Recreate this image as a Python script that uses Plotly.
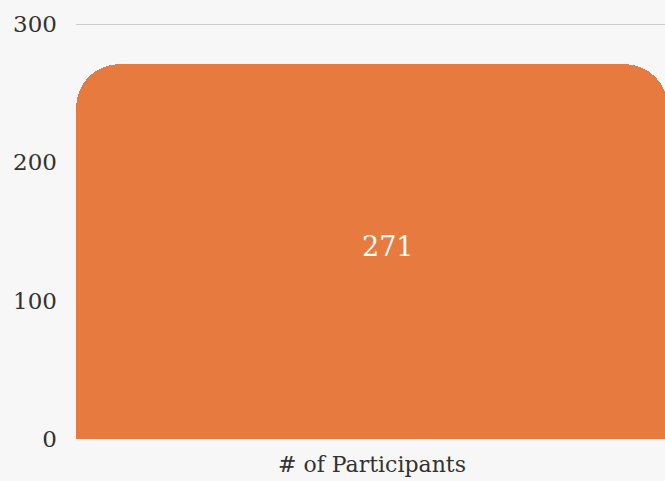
import plotly.graph_objects as go

categories = ["# of Participants"]
values = [271]
y_ticks = [0, 100, 200, 300]

FONT = "DejaVu Serif"
fig = go.Figure()
fig.add_trace(go.Bar(
    x=categories, y=values,
    marker=dict(color="#E67A3F", cornerradius=44, line=dict(width=0)),
    width=1.0,
    hoverinfo="skip",
))
fig.add_annotation(
    x=categories[0], y=values[0] / 2, text=str(values[0]),
    showarrow=False, xshift=16, yshift=5,
    font=dict(family=FONT, size=27, color="#ffffff"),
)
fig.update_layout(
    width=665, height=481,
    margin=dict(l=76, r=0, t=23, b=42),
    paper_bgcolor="#F7F7F7", plot_bgcolor="#F7F7F7",
    showlegend=False, bargap=0,
    font=dict(family=FONT, size=22, color="#333333"),
)
fig.update_xaxes(range=[-0.5, 0.495], showgrid=False, zeroline=False,
                 showline=False, ticks="", tickfont=dict(size=22),
                 ticklabelstandoff=10)
fig.update_yaxes(range=[0, 300.8], tickvals=y_ticks, showgrid=True,
                 gridcolor="#CCCCCC", gridwidth=1, zeroline=False,
                 showline=False, ticks="", ticklabelstandoff=18,
                 tickfont=dict(size=23))
fig.write_html("out.html", config={"displayModeBar": False},
               post_script="document.body.style.margin='0';document.body.style.background='#F7F7F7';")
